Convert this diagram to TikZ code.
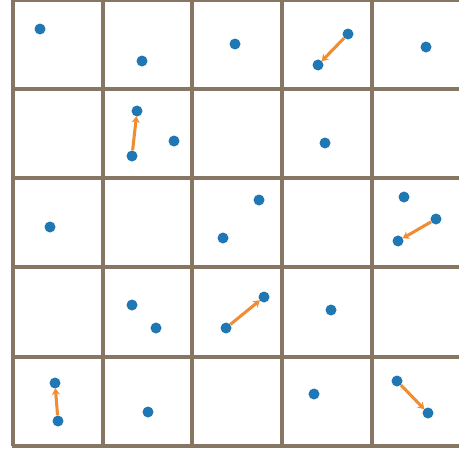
\documentclass[tikz,border=0pt]{standalone}
\usetikzlibrary{arrows.meta}
\definecolor{dotblue}{RGB}{31,119,180}
\definecolor{vecorange}{RGB}{240,140,50}
\definecolor{gridbrown}{RGB}{135,118,100}
\tikzset{
  cellline/.style = {draw=gridbrown, line width=2.6pt},
  pt/.style       = {circle, fill=dotblue, inner sep=0pt, minimum size=0.33cm},
  move/.style     = {-{Stealth[length=2mm, width=2.4mm]}, draw=vecorange,
                     line width=2.6pt, shorten >=-0.5pt}
}
\begin{document}
\begin{tikzpicture}[x=0.03cm, y=-0.03cm]
\useasboundingbox[fill=white] (0,0) rectangle (459,449);

% cells
\foreach \x in {13,103,192,282,372,461.5}
  \draw[cellline] (\x,0) -- (\x,446);
\foreach \y in {0.5,89,178,267,357,446}
  \draw[cellline] (12,\y) -- (462,\y);

% points
\node[pt] at ( 40, 29) (p11)  {};
\node[pt] at (142, 61) (p12)  {};
\node[pt] at (235, 44) (p13)  {};
\node[pt] at (348, 34) (p14a) {};
\node[pt] at (318, 65) (p14b) {};
\node[pt] at (426, 47) (p15)  {};

\node[pt] at (137,111) (p22a) {};
\node[pt] at (132,156) (p22b) {};
\node[pt] at (174,141) (p22c) {};
\node[pt] at (325,143) (p24)  {};

\node[pt] at ( 50,227) (p31)  {};
\node[pt] at (259,200) (p33a) {};
\node[pt] at (223,238) (p33b) {};
\node[pt] at (404,197) (p35a) {};
\node[pt] at (436,219) (p35b) {};
\node[pt] at (398,241) (p35c) {};

\node[pt] at (132,305) (p42a) {};
\node[pt] at (156,328) (p42b) {};
\node[pt] at (226,328) (p43a) {};
\node[pt] at (264,297) (p43b) {};
\node[pt] at (331,310) (p44)  {};

\node[pt] at ( 55,383) (p51a) {};
\node[pt] at ( 58,421) (p51b) {};
\node[pt] at (148,412) (p52)  {};
\node[pt] at (314,394) (p54)  {};
\node[pt] at (397,381) (p55a) {};
\node[pt] at (428,413) (p55b) {};

% moves
\draw[move] (p14a) -- (p14b);
\draw[move] (p22b) -- (p22a);
\draw[move] (p35b) -- (p35c);
\draw[move] (p43a) -- (p43b);
\draw[move] (p51b) -- (p51a);
\draw[move] (p55a) -- (p55b);
\end{tikzpicture}
\end{document}
